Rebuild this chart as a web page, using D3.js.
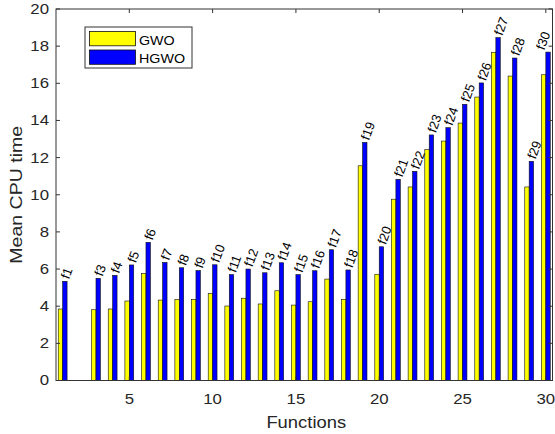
<!DOCTYPE html>
<html>
<head>
<meta charset="utf-8">
<script src="https://cdn.jsdelivr.net/npm/d3@7"></script>
<style>
  html, body { margin: 0; padding: 0; background: #fff; }
  svg { display: block; font-family: "Liberation Sans", Arial, Helvetica, sans-serif; }
</style>
</head>
<body>
<svg id="chart" width="555" height="434"></svg>
<script>
// Benchmark functions f1..f30 (f2 has no result)
const functions = d3.range(1, 31);
const gwo  = [3.85, null, 3.81, 3.85, 4.28, 5.75, 4.33, 4.37, 4.37, 4.69,
              4.01, 4.43, 4.12, 4.83, 4.06, 4.24, 5.46, 4.37, 11.56, 5.72,
              9.76, 10.42, 12.43, 12.89, 13.86, 15.26, 17.67, 16.39, 10.42, 16.46];
const hgwo = [5.34, null, 5.50, 5.66, 6.22, 7.44, 6.36, 6.07, 5.92, 6.23,
              5.70, 6.00, 5.80, 6.34, 5.70, 5.91, 7.04, 5.95, 12.82, 7.20,
              10.83, 11.26, 13.22, 13.61, 14.87, 16.02, 18.46, 17.36, 11.80, 17.68];
const xTicks = [5, 10, 15, 20, 25, 30];
const yTicks = [0, 2, 4, 6, 8, 10, 12, 14, 16, 18, 20];
const seriesNames = ["GWO", "HGWO"];
const seriesColors = ["#ffff00", "#0000ff"];

const svg = d3.select("#chart");
const W = 555;
const plotLeft = 56, plotRight = 552.5, plotTop = 9, plotBottom = 380.5;
const axisColor = "#333";
const textColor = "#262626";

const x = d3.scaleLinear().domain([0.6, 30.4]).range([plotLeft, plotRight]);
const y = d3.scaleLinear().domain([0, 20]).range([plotBottom, plotTop]);
const barW = 0.265;

// bars: GWO to the left of each integer, HGWO to the right
const rows = functions.map((f, i) => ({ f, vals: [gwo[i], hgwo[i]] }))
  .filter(d => d.vals[0] != null);

const g = svg.append("g");
rows.forEach(d => {
  d.vals.forEach((v, s) => {
    const x0 = s === 0 ? d.f - barW : d.f;
    g.append("rect")
      .attr("x", x(x0))
      .attr("y", y(v))
      .attr("width", x(x0 + barW) - x(x0))
      .attr("height", y(0) - y(v))
      .attr("fill", seriesColors[s])
      .attr("stroke", "#111")
      .attr("stroke-width", 0.6);
  });
});

// rotated function names above each pair, kept inside the canvas
rows.forEach(d => {
  const px = Math.min(x(d.f + barW / 2), W - 15);
  const py = y(Math.max(...d.vals)) - 3;
  svg.append("text")
    .attr("transform", `translate(${px},${py}) rotate(-70)`)
    .attr("dominant-baseline", "central")
    .attr("font-size", 13)
    .attr("fill", "#000")
    .text("f" + d.f);
});

// axes box with inward ticks
const tickLen = 4;
const axes = svg.append("g").attr("stroke", axisColor).attr("stroke-width", 1).attr("fill", "none");
axes.append("rect").attr("x", plotLeft).attr("y", plotTop)
  .attr("width", plotRight - plotLeft).attr("height", plotBottom - plotTop);
xTicks.forEach(t => {
  axes.append("line").attr("x1", x(t)).attr("x2", x(t)).attr("y1", plotBottom).attr("y2", plotBottom - tickLen);
  axes.append("line").attr("x1", x(t)).attr("x2", x(t)).attr("y1", plotTop).attr("y2", plotTop + tickLen);
});
yTicks.forEach(t => {
  axes.append("line").attr("x1", plotLeft).attr("x2", plotLeft + tickLen).attr("y1", y(t)).attr("y2", y(t));
  axes.append("line").attr("x1", plotRight).attr("x2", plotRight - tickLen).attr("y1", y(t)).attr("y2", y(t));
});

// tick labels (glyphs drawn slightly wide)
const wide = 1.2;
svg.append("g").selectAll("text").data(xTicks).join("text")
  .attr("transform", d => `translate(${x(d)},403.5) scale(${wide},1)`)
  .attr("text-anchor", "middle").attr("font-size", 14).attr("fill", textColor)
  .text(d => d);
svg.append("g").selectAll("text").data(yTicks).join("text")
  .attr("transform", d => `translate(49,${y(d)}) scale(${wide},1)`)
  .attr("text-anchor", "end").attr("dominant-baseline", "central")
  .attr("font-size", 14).attr("fill", textColor)
  .text(d => d);

// axis titles
svg.append("text")
  .attr("transform", `translate(${(plotLeft + plotRight) / 2 + 2},428) scale(1.15,1)`)
  .attr("text-anchor", "middle").attr("font-size", 16).attr("fill", textColor)
  .text("Functions");
svg.append("text")
  .attr("transform", `translate(22,${(plotTop + plotBottom) / 2}) rotate(-90) scale(1.15,1)`)
  .attr("text-anchor", "middle").attr("font-size", 17).attr("fill", textColor)
  .text("Mean CPU time");

// legend
const lg = svg.append("g");
lg.append("rect").attr("x", 85).attr("y", 27).attr("width", 107).attr("height", 41)
  .attr("fill", "#fff").attr("stroke", axisColor).attr("stroke-width", 1);
seriesNames.forEach((name, i) => {
  const yy = 31.5 + i * 18.5;
  lg.append("rect").attr("x", 89.5).attr("y", yy).attr("width", 46).attr("height", 14.3)
    .attr("fill", seriesColors[i]).attr("stroke", "#111").attr("stroke-width", 0.8);
  lg.append("text").attr("transform", `translate(139,${yy + 13}) scale(1.1,1)`)
    .attr("font-size", 13).attr("fill", "#000").text(name);
});
</script>
</body>
</html>
